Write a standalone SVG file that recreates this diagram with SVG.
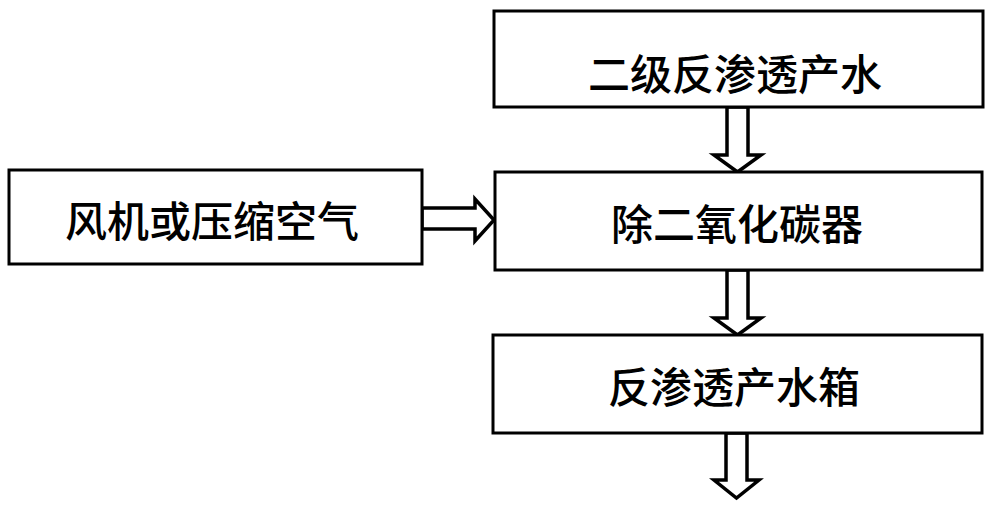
<svg xmlns="http://www.w3.org/2000/svg" width="999" height="512" viewBox="0 0 999 512">
<style>
.box{fill:#fff;stroke:#000;stroke-width:3}
.lbl{font-family:"Noto Sans CJK SC","Noto Sans CJK TC",sans-serif;font-size:42px;font-weight:500;fill:#000;text-anchor:middle;dominant-baseline:central}
.arr{fill:#fff;stroke:#000;stroke-width:3.5;stroke-linejoin:miter}
</style>
<rect width="999" height="512" fill="#fff"/>
<g id="connectors">
<polygon class="arr" points="727,107 748,107 748,155 761,155 737.5,172 714,155 727,155"/>
<polygon class="arr" points="422,208 475,208 475,199 494,220 475,241 475,229 422,229"/>
<polygon class="arr" points="727,270 748,270 748,318 761,318 737.5,335 714,318 727,318"/>
<polygon class="arr" points="726,433 747,433 747,480 759,480 736.5,498 714,480 726,480"/>
</g>
<g id="node-ro2">
<rect class="box" x="494" y="11" width="489" height="96"/>
<text class="lbl" x="735" y="71">二级反渗透产水</text>
</g>
<g id="node-air">
<rect class="box" x="9" y="170" width="413" height="94"/>
<text class="lbl" x="212" y="218">风机或压缩空气</text>
</g>
<g id="node-decarb">
<rect class="box" x="495" y="172" width="487" height="98"/>
<text class="lbl" x="737" y="221">除二氧化碳器</text>
</g>
<g id="node-tank">
<rect class="box" x="493" y="335" width="489" height="98"/>
<text class="lbl" x="734" y="384">反渗透产水箱</text>
</g>
</svg>
